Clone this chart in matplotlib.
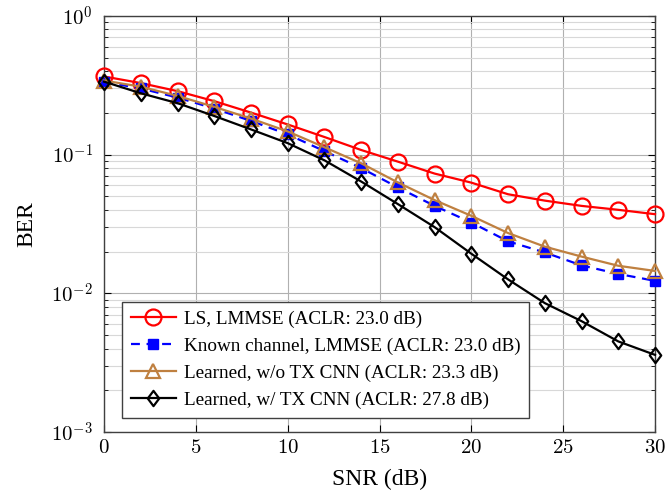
import numpy as np
import matplotlib
matplotlib.use("Agg")
import matplotlib.pyplot as plt
from matplotlib.ticker import LogLocator, NullFormatter, FuncFormatter
from matplotlib.path import Path

plt.rcParams['font.family'] = ['Liberation Serif', 'DejaVu Serif']
plt.rcParams['mathtext.fontset'] = 'cm'

snr = [0, 2, 4, 6, 8, 10, 12, 14, 16, 18, 20, 22, 24, 26, 28, 30]

ber_ls = [0.366, 0.328, 0.287, 0.243, 0.201, 0.165, 0.134, 0.108, 0.089, 0.073,
          0.0628, 0.0518, 0.0466, 0.0427, 0.040, 0.0372]
ber_known = [0.335, 0.300, 0.258, 0.215, 0.175, 0.140, 0.106, 0.080, 0.058, 0.0427,
             0.0324, 0.0237, 0.0197, 0.0159, 0.0138, 0.0123]
ber_no_cnn = [0.342, 0.309, 0.265, 0.221, 0.182, 0.147, 0.113, 0.0866, 0.063, 0.047,
              0.0362, 0.0272, 0.0217, 0.0184, 0.0158, 0.0145]
ber_cnn = [0.336, 0.277, 0.235, 0.190, 0.152, 0.121, 0.091, 0.064, 0.044, 0.030,
           0.0193, 0.0126, 0.0085, 0.0063, 0.0045, 0.0036]

labels = ['LS, LMMSE (ACLR: 23.0 dB)',
          'Known channel, LMMSE (ACLR: 23.0 dB)',
          'Learned, w/o TX CNN (ACLR: 23.3 dB)',
          'Learned, w/ TX CNN (ACLR: 27.8 dB)']

brown = (0.75, 0.5, 0.25)
# pgfplots-like diamond, a bit wider than matplotlib's thin 'd'
diamond = Path([(0, 1), (0.75, 0), (0, -1), (-0.75, 0), (0, 1)],
               [Path.MOVETO, Path.LINETO, Path.LINETO, Path.LINETO, Path.CLOSEPOLY])

fig = plt.figure(figsize=(6.67, 4.98), dpi=100)
ax = fig.add_axes([0.156, 0.1325, 0.826, 0.8355])

ax.plot(snr, ber_ls, color='red', lw=1.6, marker='o', ms=11.5, mfc='none', mew=1.6,
        label=labels[0], clip_on=False, zorder=3)
ax.plot(snr, ber_known, color='blue', lw=1.6, ls=(0, (4, 3)), marker='s', ms=7.5, mfc='blue', mew=1,
        label=labels[1], clip_on=False, zorder=3)
ax.plot(snr, ber_no_cnn, color=brown, lw=1.6, marker='^', ms=10, mfc='none', mew=1.6,
        label=labels[2], clip_on=False, zorder=3)
ax.plot(snr, ber_cnn, color='black', lw=1.6, marker=diamond, ms=11, mfc='none', mew=1.6,
        label=labels[3], clip_on=False, zorder=3)

ax.set_yscale('log')
ax.set_xlim(0, 30)
ax.set_ylim(1e-3, 1)
ax.set_xticks([0, 5, 10, 15, 20, 25, 30])
ax.xaxis.set_major_formatter(FuncFormatter(lambda v, p: r'$%d$' % v))
ax.yaxis.set_major_locator(LogLocator(base=10, numticks=10))
ax.yaxis.set_major_formatter(FuncFormatter(lambda v, p: r'$10^{%d}$' % round(np.log10(v))))
ax.yaxis.set_minor_locator(LogLocator(base=10, subs=np.arange(2, 10), numticks=20))
ax.yaxis.set_minor_formatter(NullFormatter())

ax.grid(True, which='major', color='#b0b0b0', lw=0.8)
ax.grid(True, which='minor', axis='y', color='#d8d8d8', lw=0.8)
ax.set_axisbelow(True)

ax.tick_params(which='both', direction='in', top=True, right=True, labelsize=15)
ax.tick_params(which='major', length=5)
ax.tick_params(which='minor', length=3)
ax.tick_params(axis='x', pad=5)
ax.tick_params(axis='y', pad=8)
for s in ax.spines.values():
    s.set_color('#404040')
    s.set_linewidth(1.0)

ax.set_xlabel('SNR (dB)', fontsize=17, labelpad=8)
ax.set_ylabel('BER', fontsize=17, labelpad=10)

leg = ax.legend(loc='lower left', bbox_to_anchor=(0.033, 0.034), fontsize=13.8,
                fancybox=False, edgecolor='#404040', framealpha=1,
                handlelength=2.35, handletextpad=0.4, borderpad=0.45,
                labelspacing=0.5, borderaxespad=0)
leg.get_frame().set_linewidth(1.0)
leg.set_zorder(5)

fig.savefig('out.png', dpi=100)
